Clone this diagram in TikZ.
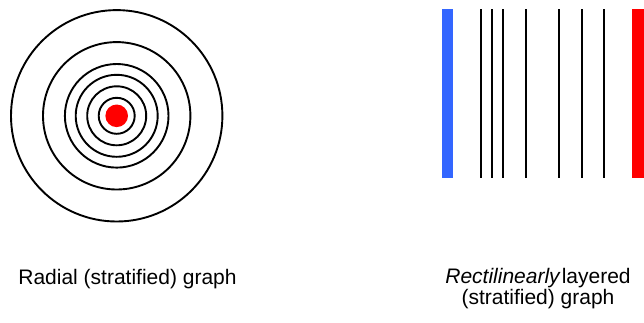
\documentclass[tikz,border=0pt]{standalone}
\usepackage{fontspec}
\setmainfont{Liberation Sans}
\definecolor{barblue}{HTML}{3366FF}
\definecolor{barred}{HTML}{FF0000}
\begin{document}
\begin{tikzpicture}[x=1pt,y=-1pt,
  ring/.style={draw=black,line width=1.9pt},
  layer/.style={draw=black,line width=1.9pt},
  lbl/.style={font=\fontsize{21}{21}\selectfont,inner sep=0pt}]
\useasboundingbox (0,0) rectangle (644,322);
% radial
\coordinate (c) at (116.7,115.8);
\foreach \r in {105.7,73.7,51.8,41,29.5,18}{
  \draw[ring] (c) circle (\r);
}
\fill[barred] (c) circle (11.3);
% rectilinear
\fill[barblue] (442,9.3) rectangle (453,177.7);
\fill[barred] (632.3,9.3) rectangle (644,177.7);
\foreach \x in {481,492,503.3,526,559.3,582,604}{
  \draw[layer] (\x,9.3) -- (\x,177.7);
}
% labels
\node[lbl,anchor=base] (l1) at (127.5,284) {Radial (stratified) graph};
\node[lbl,anchor=base,align=center] (l2) at (538,304.3) {\textit{Rectilinearly}\kern1pt layered\\(stratified) graph};
\end{tikzpicture}
\end{document}
